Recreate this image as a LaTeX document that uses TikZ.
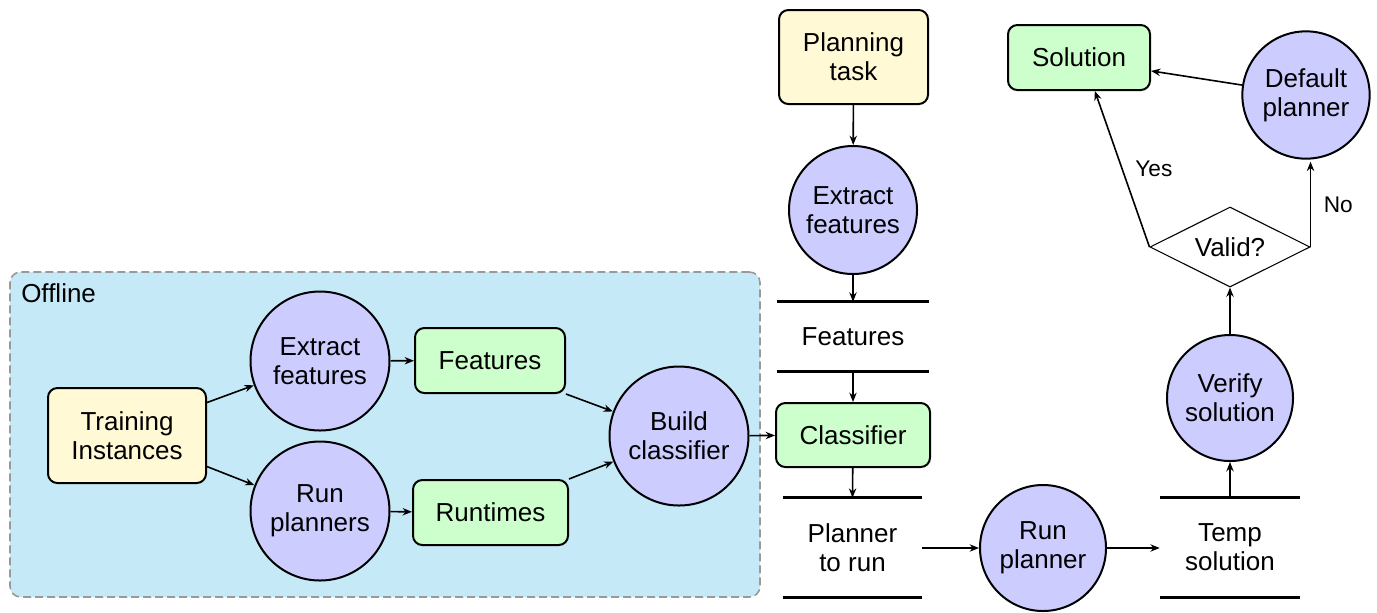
\documentclass[tikz,border=0pt]{standalone}
\usepackage{fontspec}
\setmainfont{Liberation Sans}
\usetikzlibrary{shapes.geometric,arrows.meta,calc}

\definecolor{offbg}{HTML}{C6E9F8}
\definecolor{offline}{HTML}{999999}
\definecolor{inputfill}{HTML}{FFF9D6}
\definecolor{datafill}{HTML}{CCFFCC}
\definecolor{procfill}{HTML}{CCCCFF}

\begin{document}
\begin{tikzpicture}[x=0.75pt,y=-0.75pt,
  every node/.style={font=\fontsize{19.5}{22}\selectfont},
  box/.style={draw, line width=1.5pt, rounded corners=7pt, align=center, inner sep=0pt},
  inbox/.style={box, fill=inputfill},
  databox/.style={box, fill=datafill},
  proc/.style={circle, draw, line width=1.5pt, fill=procfill, align=center, inner sep=0pt},
  store/.style={align=center, inner sep=0pt},
  storeline/.style={line width=2.2pt},
  decision/.style={diamond, draw, line width=0.8pt, aspect=2, inner sep=0pt,
    minimum width=120pt, minimum height=60pt},
  arr/.style={-{Stealth[length=7pt,width=5.5pt]}, line width=1.2pt},
  lbl/.style={font=\fontsize{17}{20}\selectfont}
]
\useasboundingbox (0,0) rectangle (1377,612);

% offline stage background
\node[draw=offline, fill=offbg, dash pattern=on 6pt off 3pt, line width=1.2pt,
  rounded corners=8pt, minimum width=562.5pt, minimum height=243.75pt] (off) at (385,434.5) {};
\node[anchor=west, inner sep=0pt] (offlbl) at (21,293) {Offline};

% offline pipeline
\node[inbox, minimum width=118.5pt, minimum height=71.25pt] (tr) at (127,435.5) {Training\\Instances};
\node[proc, minimum size=104.25pt] (ex1) at (320,361) {Extract\\features};
\node[proc, minimum size=104.25pt] (rp1) at (320,511) {Run\\planners};
\node[databox, minimum width=112.5pt, minimum height=48.75pt] (fe1) at (490,360.5) {Features};
\node[databox, minimum width=116.25pt, minimum height=48.75pt] (rt) at (490.5,512.5) {Runtimes};
\node[proc, minimum size=104.25pt] (bc) at (679,436) {Build\\classifier};

% online pipeline
\node[databox, minimum width=115.5pt, minimum height=48pt] (cl) at (853,435) {Classifier};
\node[inbox, minimum width=111.75pt, minimum height=70.5pt] (pt) at (853.5,57) {Planning\\task};
\node[proc, minimum size=96pt] (ex2) at (853,210) {Extract\\features};
\node[store, minimum width=114pt, minimum height=51.75pt] (fs) at (853,336.5) {Features};
\node[store, minimum width=104.25pt, minimum height=74.25pt] (pr) at (852.5,547.5) {Planner\\to run};
\node[proc, minimum size=94.5pt] (rp2) at (1043,548) {Run\\planner};
\node[store, minimum width=105pt, minimum height=74.25pt] (ts) at (1230,547.5) {Temp\\solution};
\node[proc, minimum size=94.5pt] (vs) at (1230,398) {Verify\\solution};
\node[decision] (va) at (1230,247) {Valid?};
\node[databox, minimum width=106.5pt, minimum height=48.75pt] (sol) at (1079,57.5) {Solution};
\node[proc, minimum size=95.5pt] (dp) at (1306,95) {Default\\planner};

% data store rules
\foreach \s in {fs,pr,ts}{
  \draw[storeline] (\s.north west) -- (\s.north east);
  \draw[storeline] (\s.south west) -- (\s.south east);
}

% offline connectors
\draw[arr] ($(tr.north east)!0.16!(tr.south east)$) -- (ex1);
\draw[arr] ($(tr.north east)!0.82!(tr.south east)$) -- (rp1);
\draw[arr] (ex1) -- (fe1);
\draw[arr] (rp1) -- (rt);
\draw[arr] (fe1.south east) -- (bc);
\draw[arr] (rt.north east) -- (bc);
\draw[arr] (bc) -- (cl);

% online connectors
\draw[arr] (pt) -- (ex2);
\draw[arr] (ex2) -- (fs.north);
\draw[arr] (fs.south) -- (cl);
\draw[arr] (cl) -- (pr.north);
\draw[arr] (pr.east |- rp2) -- (rp2);
\draw[arr] (rp2) -- (ts.west |- rp2);
\draw[arr] (ts.north) -- (vs);
\draw[arr] (vs) -- (va.south);
\draw[arr] (va.west) -- node[lbl, pos=0.5, right=6pt] (yes) {Yes} ($(sol.south west)!0.61!(sol.south east)$);
\draw[arr] (va.east) -- node[lbl, pos=0.5, right=6pt] (no) {No} ($(va.east |- dp.south)+(0,2)$);
\draw[arr] (dp) -- ($(sol.north east)!0.7!(sol.south east)$);
\end{tikzpicture}
\end{document}
